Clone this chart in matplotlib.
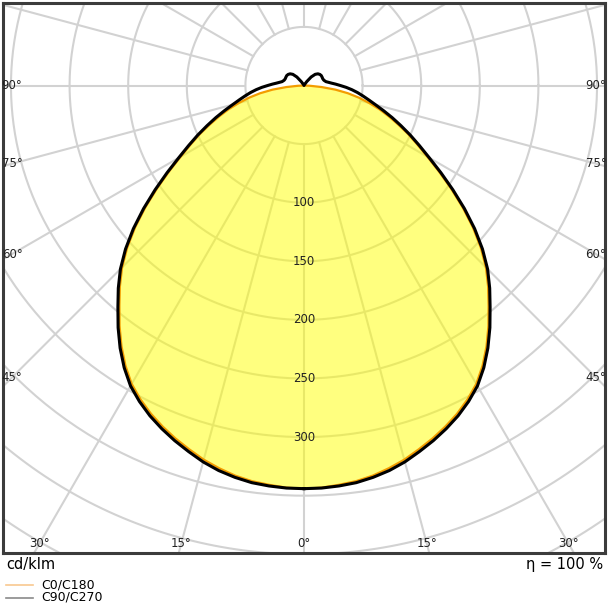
import numpy as np
import matplotlib
matplotlib.use("Agg")
from matplotlib import pyplot as plt
from matplotlib.lines import Line2D

# luminous intensity distribution, cd/klm, symmetric both sides
gamma = [0, 2.5, 5, 7.5, 10, 12.5, 15, 17.5, 20, 22.5, 25, 27.5, 30, 32.5, 35, 37.5,
         40, 42.5, 45, 47.5, 50, 52.5, 55, 57.5, 60, 62.5, 65, 67.5, 70, 72.5, 75, 77.5,
         80, 82.5, 85, 87.5, 90, 92.5, 95, 97.5, 100, 105, 110, 115, 120, 125, 130, 135,
         140, 145, 150, 155, 160, 170, 180]
c0_c180 = [344, 343.5, 342, 340.5, 338, 334.5, 330.5, 325.5, 320.5, 315, 309, 302, 294, 283.5, 271.5, 258.5,
           245, 232.5, 219.5, 204.5, 188, 170.5, 153, 136.5, 121.5, 109, 98, 87, 77, 67.5, 57.5, 48,
           38, 27, 15, 5, 0, 0, 0, 0, 0, 0, 0, 0, 0, 0, 0, 0,
           0, 0, 0, 0, 0, 0, 0]
c90_c270 = [344, 343.8, 343, 341.8, 339.5, 336.5, 332.5, 327.5, 322.5, 317, 311, 304, 296, 285.5, 273.5, 260.5,
            247, 234.5, 221.5, 206.5, 190, 172.5, 155, 138.5, 123.5, 111, 100, 89.5, 80, 71, 63, 56.5,
            51, 46, 41, 36, 31, 27, 23.5, 21, 19, 17.5, 17, 17, 17, 16.5, 15.5, 13.5,
            9.5, 4, 1, 0, 0, 0, 0]

ring_values = [100, 150, 200, 250, 300]
side_angles = [90, 75, 60, 45]
bottom_angles = [30, 15, 0]
legend_labels = ["C0/C180", "C90/C270"]
unit_text = "cd/klm"
eta_text = "η = 100 %"

GRID = "#d2d2d2"
ORANGE = "#f39c00"
FILL = "#ffff00"


def closed_curve(angles, values):
    # right half going up, then left half coming back down
    g = np.radians(angles)
    v = np.asarray(values, dtype=float)
    x = np.concatenate([v * np.sin(g), -(v * np.sin(g))[::-1]])
    y = np.concatenate([-v * np.cos(g), (-v * np.cos(g))[::-1]])
    return x, y


fig = plt.figure(figsize=(6.08, 6.08), dpi=100)
ax = fig.add_axes([3 / 608, 55 / 608, 602 / 608, 550 / 608])
ax.set_xlim(-256.8, 256.8)
ax.set_ylim(-398.9, 70.4)
ax.set_aspect("equal", adjustable="datalim")
ax.set_xticks([])
ax.set_yticks([])
for s in ax.spines.values():
    s.set_color("#3c3c3c")
    s.set_linewidth(2.2)

# polar grid: circles every 50, spokes every 15 deg starting at r=50
t = np.linspace(0, 2 * np.pi, 400)
for r in range(50, 551, 50):
    ax.plot(r * np.cos(t), r * np.sin(t), color=GRID, lw=1.5, zorder=1)
for a in range(0, 360, 15):
    ar = np.radians(a)
    ax.plot([50 * np.sin(ar), 700 * np.sin(ar)], [-50 * np.cos(ar), -700 * np.cos(ar)],
            color=GRID, lw=1.5, zorder=1)

# curves
xo, yo = closed_curve(gamma, c0_c180)
xb, yb = closed_curve(gamma, c90_c270)
ax.fill(xo, yo, color=FILL, alpha=0.5, lw=0, zorder=2)
ax.plot(xo, yo, color=ORANGE, lw=1.6, zorder=3, solid_joinstyle="round")
ax.plot(xb, yb, color="black", lw=2.2, zorder=4, solid_joinstyle="round")

# radial value labels along the 0 deg spoke
for r in ring_values:
    ax.text(0, -r, str(r), ha="center", va="center", fontsize=8.5, color="#222222", zorder=5)

# angle labels at the frame, centred on their spoke
x_side = 249.1
y_bottom = -390.4
for a in side_angles:
    ar = np.radians(a)
    y = -x_side * np.cos(ar) / np.sin(ar)
    for sx in (-1, 1):
        ax.text(sx * x_side, y, f"{a}°", ha="center", va="center", fontsize=8.5,
                color="#222222", zorder=5)
for a in bottom_angles:
    ar = np.radians(a)
    x = abs(y_bottom) * np.tan(ar)
    for sx in ((-1, 1) if a else (1,)):
        ax.text(sx * x, y_bottom, f"{a}°", ha="center", va="center", fontsize=8.5,
                color="#222222", zorder=5)

# texts below the frame
fig.text(6 / 608, 1 - 564 / 608, unit_text, ha="left", va="center", fontsize=10.5)
fig.text(603 / 608, 1 - 564 / 608, eta_text, ha="right", va="center", fontsize=10.5)

# small legend
legend_colors = ["#f8c890", "#8a8a8a"]
for i, (lab, col) in enumerate(zip(legend_labels, legend_colors)):
    yy = 1 - (585 + 12.5 * i) / 608
    fig.add_artist(Line2D([6 / 608, 33 / 608], [yy, yy], color=col, lw=1.2))
    fig.text(41 / 608, yy, lab, ha="left", va="center", fontsize=9)

fig.savefig("out.png", dpi=100)
